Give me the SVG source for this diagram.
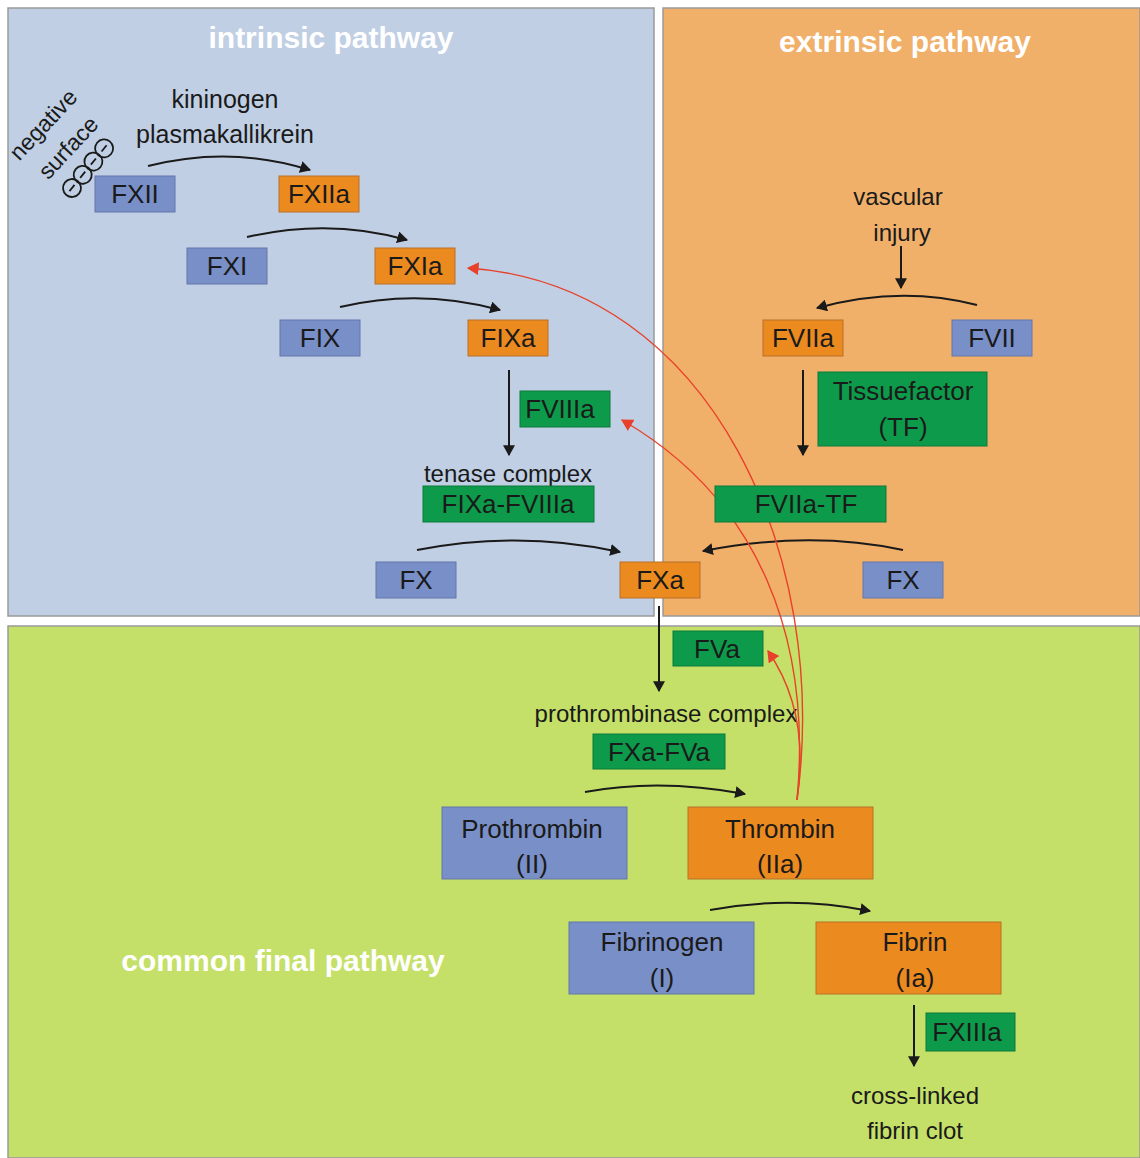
<svg xmlns="http://www.w3.org/2000/svg" width="1140" height="1158" viewBox="0 0 1140 1158">
<defs>
<marker id="ahb" viewBox="0 0 10 11" refX="9" refY="5.5" markerWidth="11" markerHeight="12" markerUnits="userSpaceOnUse" orient="auto"><path d="M0,0 L10,5.5 L0,11 z" fill="#1a1a1a"/></marker>
<marker id="ar" viewBox="0 0 10 11" refX="9" refY="5.5" markerWidth="12" markerHeight="13" markerUnits="userSpaceOnUse" orient="auto"><path d="M0,0 L10,5.5 L0,11 z" fill="#e8412b"/></marker>
<style>
.panel{stroke:#9a9a9a;stroke-width:1.5}
.title{font-family:"Liberation Sans",Arial,sans-serif;font-weight:bold;font-size:30px;fill:#ffffff;text-anchor:middle}
.lbl{font-family:"Liberation Sans",Arial,sans-serif;font-size:24px;fill:#1a1a1a;text-anchor:middle}
.bt{font-family:"Liberation Sans",Arial,sans-serif;font-size:26px;fill:#1a1a1a;text-anchor:middle}
.blue{fill:#798fc7;stroke:#6477ab;stroke-width:1}
.orange{fill:#eb8a1f;stroke:#b8702a;stroke-width:1}
.green{fill:#0d9a4a;stroke:#0a7a3a;stroke-width:1}
.arr{fill:none;stroke:#1a1a1a;stroke-width:2;marker-end:url(#ahb)}
.red{fill:none;stroke:#e8412b;stroke-width:1.4;marker-end:url(#ar)}
.circ{fill:none;stroke:#1a1a1a;stroke-width:1.8}
.minus{stroke:#1a1a1a;stroke-width:1.8}
</style>
</defs>
<g id="panels">
<rect class="panel" x="8" y="8" width="646" height="608" fill="#c0cfe3"/>
<rect class="panel" x="663" y="8" width="477" height="608" fill="#f0b06a"/>
<rect class="panel" x="8" y="626" width="1132" height="532" fill="#c5e068"/>
<text class="title" x="331" y="48">intrinsic pathway</text>
<text class="title" x="905" y="52">extrinsic pathway</text>
<text class="title" x="283" y="971">common final pathway</text>
</g>
<g id="negative-surface">
<text class="lbl" transform="translate(49,130) rotate(-47)" style="font-size:23px">negative</text>
<text class="lbl" transform="translate(74,153) rotate(-47)" style="font-size:23px">surface</text>
<g transform="translate(72,188) rotate(-51)">
<circle class="circ" cx="0" cy="0" r="9"/><line class="minus" x1="-4" y1="0" x2="4" y2="0"/>
<circle class="circ" cx="17" cy="0" r="9"/><line class="minus" x1="13" y1="0" x2="21" y2="0"/>
<circle class="circ" cx="34" cy="0" r="9"/><line class="minus" x1="30" y1="0" x2="38" y2="0"/>
<circle class="circ" cx="51" cy="0" r="9"/><line class="minus" x1="47" y1="0" x2="55" y2="0"/>
</g>
</g>
<g id="labels">
<text class="lbl" x="225" y="108" style="font-size:25px">kininogen</text>
<text class="lbl" x="225" y="143" style="font-size:25px">plasmakallikrein</text>
<text class="lbl" x="898" y="205">vascular</text>
<text class="lbl" x="902" y="241">injury</text>
<text class="lbl" x="508" y="482">tenase complex</text>
<text class="lbl" x="666" y="722">prothrombinase complex</text>
<text class="lbl" x="915" y="1104">cross-linked</text>
<text class="lbl" x="915" y="1139">fibrin clot</text>
</g>
<g id="connectors">
<path class="arr" d="M148,166 Q230,145 310,170"/>
<path class="arr" d="M247,237 Q330,218 407,240"/>
<path class="arr" d="M340,307 Q420,288 500,310"/>
<path class="arr" d="M509,370 L509,455"/>
<path class="arr" d="M417,550 Q520,530 620,552"/>
<path class="arr" d="M903,550 Q810,530 703,551"/>
<path class="arr" d="M901,246 L901,288"/>
<path class="arr" d="M977,305 Q900,285 817,308"/>
<path class="arr" d="M803,370 L803,455"/>
<path class="arr" d="M659,606 L659,691"/>
<path class="arr" d="M585,792 Q660,778 745,794"/>
<path class="arr" d="M710,910 Q790,895 870,911"/>
<path class="arr" d="M914,1005 L914,1066"/>
<path class="red" d="M797,800 C830,560 715,285 468,268"/>
<path class="red" d="M797,800 C812,640 760,500 622,420"/>
<path class="red" d="M797,800 C806,740 795,690 768,651"/>
</g>
<g id="FXII"><rect class="blue" x="95" y="176" width="80" height="36"/><text class="bt" x="135" y="203">FXII</text></g>
<g id="FXIIa"><rect class="orange" x="279" y="176" width="80" height="36"/><text class="bt" x="319" y="203">FXIIa</text></g>
<g id="FXI"><rect class="blue" x="187" y="248" width="80" height="36"/><text class="bt" x="227" y="275">FXI</text></g>
<g id="FXIa"><rect class="orange" x="375" y="248" width="80" height="36"/><text class="bt" x="415" y="275">FXIa</text></g>
<g id="FIX"><rect class="blue" x="280" y="320" width="80" height="36"/><text class="bt" x="320" y="347">FIX</text></g>
<g id="FIXa"><rect class="orange" x="468" y="320" width="80" height="36"/><text class="bt" x="508" y="347">FIXa</text></g>
<g id="FVIIIa"><rect class="green" x="520" y="391" width="90" height="36"/><text class="bt" x="560" y="418">FVIIIa</text></g>
<g id="FIXa-FVIIIa"><rect class="green" x="423" y="486" width="171" height="36"/><text class="bt" x="508" y="513">FIXa-FVIIIa</text></g>
<g id="FX-left"><rect class="blue" x="376" y="562" width="80" height="36"/><text class="bt" x="416" y="589">FX</text></g>
<g id="FXa"><rect class="orange" x="620" y="562" width="80" height="36"/><text class="bt" x="660" y="589">FXa</text></g>
<g id="FX-right"><rect class="blue" x="863" y="562" width="80" height="36"/><text class="bt" x="903" y="589">FX</text></g>
<g id="FVIIa"><rect class="orange" x="763" y="320" width="80" height="36"/><text class="bt" x="803" y="347">FVIIa</text></g>
<g id="FVII"><rect class="blue" x="952" y="320" width="80" height="36"/><text class="bt" x="992" y="347">FVII</text></g>
<g id="TF"><rect class="green" x="818" y="372" width="169" height="74"/><text class="bt" x="903" y="400">Tissuefactor</text><text class="bt" x="903" y="436">(TF)</text></g>
<g id="FVIIa-TF"><rect class="green" x="715" y="486" width="171" height="36"/><text class="bt" x="806" y="513">FVIIa-TF</text></g>
<g id="FVa"><rect class="green" x="673" y="631" width="90" height="35"/><text class="bt" x="717" y="658">FVa</text></g>
<g id="FXa-FVa"><rect class="green" x="593" y="734" width="132" height="35"/><text class="bt" x="659" y="761">FXa-FVa</text></g>
<g id="Prothrombin"><rect class="blue" x="442" y="807" width="185" height="72"/><text class="bt" x="532" y="838">Prothrombin</text><text class="bt" x="532" y="873">(II)</text></g>
<g id="Thrombin"><rect class="orange" x="688" y="807" width="185" height="72"/><text class="bt" x="780" y="838">Thrombin</text><text class="bt" x="780" y="873">(IIa)</text></g>
<g id="Fibrinogen"><rect class="blue" x="569" y="922" width="185" height="72"/><text class="bt" x="662" y="951">Fibrinogen</text><text class="bt" x="662" y="987">(I)</text></g>
<g id="Fibrin"><rect class="orange" x="816" y="922" width="185" height="72"/><text class="bt" x="915" y="951">Fibrin</text><text class="bt" x="915" y="987">(Ia)</text></g>
<g id="FXIIIa"><rect class="green" x="926" y="1013" width="89" height="38"/><text class="bt" x="967" y="1041">FXIIIa</text></g>
</svg>
